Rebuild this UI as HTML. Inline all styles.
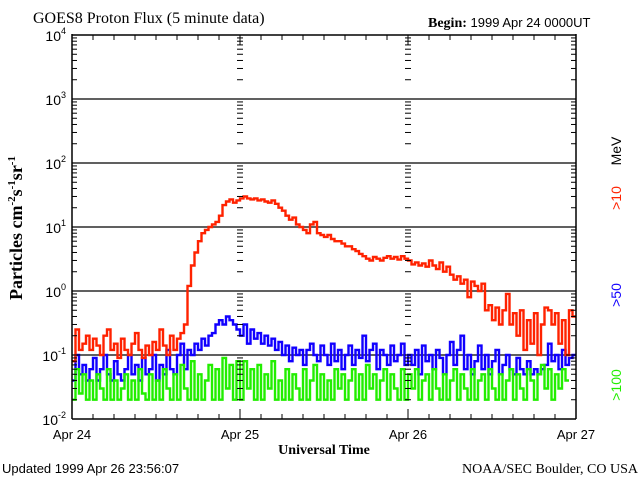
<!DOCTYPE html>
<html><head><meta charset="utf-8"><style>
body{margin:0;background:#fff;width:640px;height:480px;overflow:hidden}
svg{display:block}
.s{font-family:"Liberation Sans",sans-serif}
.r{font-family:"Liberation Serif",serif}
</style></head><body>
<svg id="chart" width="640" height="480" viewBox="0 0 640 480">
<text class="r" x="33" y="23" font-size="16">GOES8 Proton Flux (5 minute data)</text>
<text x="428" y="27" font-size="14"><tspan class="r" font-weight="bold">Begin:</tspan><tspan class="s" font-size="13"> 1999 Apr 24 0000UT</tspan></text>
<text class="r" font-size="18" font-weight="bold" transform="translate(22,228) rotate(-90)" text-anchor="middle">Particles cm<tspan font-size="11" dy="-7">-2</tspan><tspan dy="7">s</tspan><tspan font-size="11" dy="-7">-1</tspan><tspan dy="7">sr</tspan><tspan font-size="11" dy="-7">-1</tspan></text>
<text class="r" x="324" y="454" font-size="14" font-weight="bold" text-anchor="middle">Universal Time</text>
<text class="s" x="2" y="473" font-size="13">Updated 1999 Apr 26 23:56:07</text>
<text class="r" x="638" y="473" font-size="14" text-anchor="end">NOAA/SEC Boulder, CO USA</text>
<text class="s" font-size="14" fill="#000" transform="translate(621,151) rotate(-90)" text-anchor="middle">MeV</text>
<text class="s" font-size="14" fill="#ff2200" transform="translate(621,198) rotate(-90)" text-anchor="middle">&gt;10</text>
<text class="s" font-size="14" fill="#1100ff" transform="translate(621,295) rotate(-90)" text-anchor="middle">&gt;50</text>
<text class="s" font-size="14" fill="#22ee00" transform="translate(621,385) rotate(-90)" text-anchor="middle">&gt;100</text>
<g id="grid"></g><g id="series"></g><g id="axes"></g>
</svg>
<script>
const dayLabels=["Apr 24","Apr 25","Apr 26","Apr 27"];
const decades=[-2,-1,0,1,2,3,4];
const red=[0.08,0.25,0.12,0.15,0.2,0.12,0.18,0.14,0.1,0.2,0.25,0.12,0.15,0.09,0.18,0.12,0.1,0.15,0.22,0.12,0.09,0.14,0.1,0.16,0.12,0.25,0.14,0.1,0.2,0.12,0.18,0.22,
0.3,1.2,2.5,4,6,8,9,10,11,12,15,22,25,27,24,26,
28,30,28,27,28,26,27,25,24,26,23,20,18,15,13,14,11,10,9,8,11,12,8,7.5,7,7.5,6.5,6,6,5.5,5,5,4.5,4.2,3.8,3.5,3.2,3,3.4,3.2,3.0,3.3,3.5,3.2,3.4,3.1,3.5,3.2,
3,2.6,2.8,2.5,2.7,2.4,3,2.5,2.2,2.8,2.0,2.4,1.8,1.5,1.7,1.3,1.5,0.8,1.4,1.2,1.0,1.3,0.5,0.6,0.35,0.55,0.3,0.5,0.9,0.3,0.45,0.2,0.5,0.12,0.35,0.15,0.45,0.1,0.3,0.55,0.5,0.3,0.45,0.15,0.35,0.1,0.5,0.4];
const blue=[0.04,0.1,0.05,0.07,0.04,0.06,0.09,0.04,0.06,0.1,0.05,0.04,0.08,0.05,0.04,0.06,0.1,0.05,0.07,0.04,0.09,0.05,0.06,0.1,0.04,0.07,0.05,0.12,0.06,0.05,0.1,0.15,
0.06,0.12,0.1,0.15,0.12,0.18,0.14,0.2,0.22,0.3,0.35,0.3,0.4,0.35,0.3,0.25,
0.2,0.3,0.15,0.25,0.18,0.22,0.15,0.2,0.14,0.18,0.12,0.16,0.1,0.14,0.08,0.13,0.1,0.12,0.07,0.12,0.15,0.1,0.08,0.14,0.1,0.07,0.15,0.08,0.12,0.06,0.1,0.14,0.07,0.12,0.09,0.2,0.08,0.12,0.15,0.06,0.12,0.1,0.07,0.14,0.08,0.1,0.15,0.07,
0.1,0.07,0.12,0.05,0.14,0.08,0.1,0.06,0.12,0.09,0.05,0.1,0.16,0.07,0.12,0.2,0.06,0.1,0.05,0.08,0.14,0.06,0.1,0.05,0.08,0.12,0.05,0.07,0.1,0.06,0.05,0.09,0.06,0.05,0.08,0.05,0.06,0.05,0.06,0.07,0.15,0.08,0.1,0.06,0.12,0.07,0.09,0.1];
const green=[0.02,0.06,0.025,0.05,0.02,0.04,0.02,0.05,0.03,0.02,0.06,0.02,0.04,0.02,0.03,0.05,0.02,0.04,0.02,0.06,0.025,0.02,0.05,0.02,0.04,0.02,0.06,0.03,0.02,0.05,0.02,0.07,
0.03,0.02,0.08,0.02,0.05,0.02,0.04,0.07,0.02,0.06,0.02,0.09,0.03,0.07,0.02,0.08,
0.02,0.08,0.03,0.06,0.02,0.07,0.02,0.05,0.03,0.08,0.02,0.04,0.02,0.06,0.02,0.05,0.03,0.02,0.06,0.02,0.04,0.07,0.02,0.05,0.02,0.04,0.02,0.06,0.03,0.05,0.02,0.04,0.06,0.02,0.05,0.02,0.07,0.03,0.05,0.02,0.04,0.06,0.02,0.05,0.03,0.02,
0.06,0.02,0.05,0.03,0.06,0.02,0.04,0.05,0.02,0.06,0.03,0.02,0.05,0.02,0.04,0.06,0.02,0.05,0.03,0.02,0.06,0.02,0.04,0.05,0.02,0.06,0.03,0.02,0.05,0.02,0.04,0.06,0.02,0.05,0.03,0.02,0.06,0.04,0.02,0.05,0.07,0.03,0.06,0.02,0.05,0.03,0.06,0.04];
const NS="http://www.w3.org/2000/svg";
const X0=72,X1=576,Y0=419,PERDEC=64,N=144;
function xi(i){return X0+(i+0.5)*(X1-X0)/N;}
function xd(d){return X0+d*(X1-X0)/3;}
function yv(v){return Y0-(Math.log10(v)+2)*PERDEC;}
function mk(tag,attrs,parent){const e=document.createElementNS(NS,tag);for(const k in attrs)e.setAttribute(k,attrs[k]);parent.appendChild(e);return e;}
const grid=document.getElementById('grid'),axes=document.getElementById('axes'),series=document.getElementById('series');
decades.forEach(d=>{
  const y=yv(Math.pow(10,d));
  if(d>-2&&d<4){const l=mk('line',{x1:X0,x2:X1,y1:y,y2:y,stroke:'#000','stroke-width':1.3},grid);
  
  }
  const t=mk('text',{x:X0-6,y:y+6,'font-size':14,'text-anchor':'end',class:'s'},axes);
  
  
  t.innerHTML='10<tspan font-size="9" dy="-7">'+d+'</tspan>';
});
// axis frame & ticks
[X0,xd(1),xd(2),X1].forEach((x,k)=>{
  const edge=(k===0||k===3);
  if(edge){const l=mk('line',{x1:x,x2:x,y1:yv(1e4)-1,y2:Y0,stroke:'#000','stroke-width':1.5},axes);
  
  }
  const dir=(k===3)?-1:1;
  for(let d=-2;d<4;d++){for(let m=1;m<10;m++){
    const y=yv(m*Math.pow(10,d));const len=m===1?10:5;
    if(edge)mk('line',{x1:x,x2:x+dir*len,y1:y,y2:y,stroke:'#000','stroke-width':1},axes);
    else mk('line',{x1:x-3,x2:x+3,y1:y,y2:y,stroke:'#000','stroke-width':1},axes);
  }}
});
mk('line',{x1:X0,x2:X1,y1:Y0,y2:Y0,stroke:'#000','stroke-width':1.5},axes);
mk('line',{x1:X0,x2:X1,y1:yv(1e4),y2:yv(1e4),stroke:'#000','stroke-width':1.5},axes);
for(let h=0;h<=72;h+=3){const x=X0+h*(X1-X0)/72;const len=(h%24===0)?10:5;
  mk('line',{x1:x,x2:x,y1:Y0,y2:Y0-len,stroke:'#000'},axes);
  mk('line',{x1:x,x2:x,y1:yv(1e4),y2:yv(1e4)+len,stroke:'#000'},axes);}
dayLabels.forEach((s,d)=>{const t=mk('text',{x:xd(d),y:439,'font-size':13,'text-anchor':'middle',class:'s'},axes);
  
  
  t.textContent=s;});
function draw(arr,color,name){
  let d='';arr.forEach((v,i)=>{const x0=X0+i*(X1-X0)/N,x1=X0+(i+1)*(X1-X0)/N,y=yv(v);
    d+=(i===0?'M':'L')+x0.toFixed(1)+','+y.toFixed(1)+'L'+x1.toFixed(1)+','+y.toFixed(1);});
  const p=mk('path',{d:d,fill:'none',stroke:color,'stroke-width':2.4},series);
  
  
}
draw(blue,'#1100ff','series-gt50');
draw(red,'#ff2200','series-gt10');
draw(green,'#22ee00','series-gt100');
</script>
</body></html>
